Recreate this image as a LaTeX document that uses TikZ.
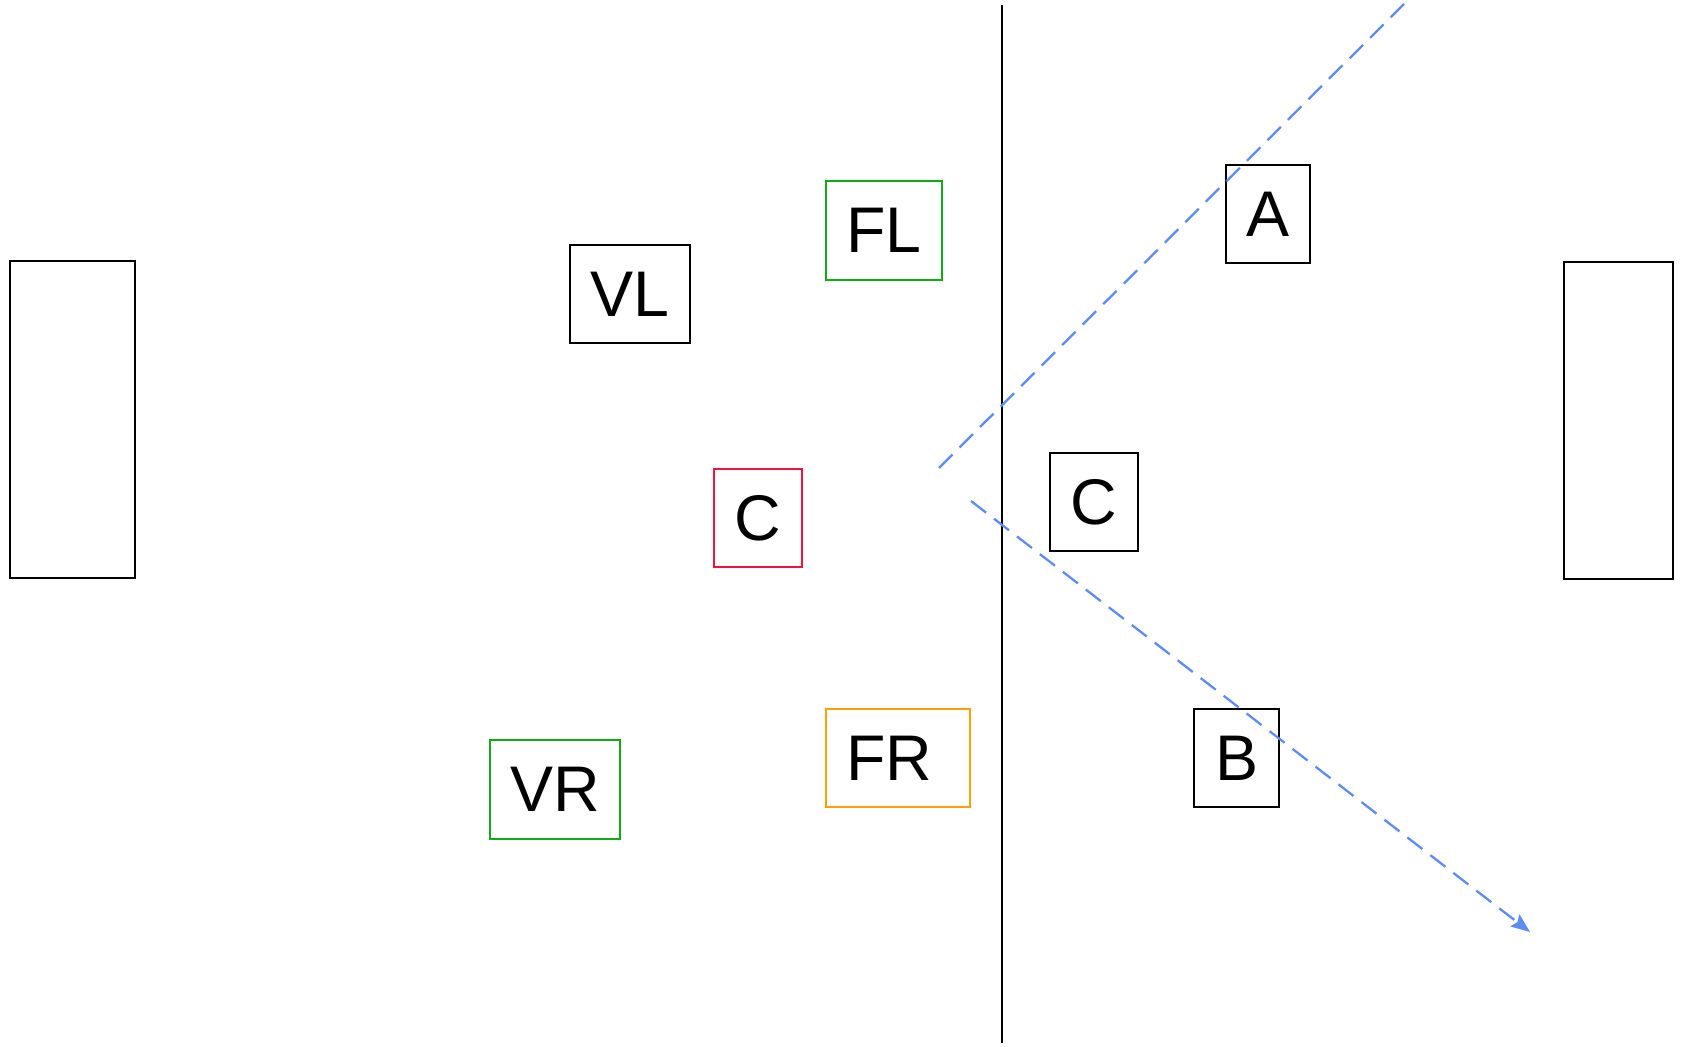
\documentclass[tikz,border=0pt]{standalone}
\usepackage{fontspec}
\setmainfont{Liberation Sans}
\usetikzlibrary{arrows.meta}
\definecolor{boxgreen}{RGB}{20,170,20}
\definecolor{boxred}{RGB}{240,20,60}
\definecolor{boxorange}{RGB}{255,160,0}
\definecolor{runblue}{RGB}{94,140,245}

\begin{document}
\begin{tikzpicture}[x=1pt, y=-1pt,
    player/.style={draw=#1, line width=2.5pt, inner sep=0pt, font=\fontsize{64.5}{76}\selectfont},
    player/.default=black,
    goal/.style={draw, line width=2.5pt, inner sep=0pt},
    run/.style={draw=runblue, line width=2.3pt, dash pattern=on 19pt off 10pt}
]
    \useasboundingbox (0,0) rectangle (1682,1047);

    % goals
    \node[goal, minimum width=125pt, minimum height=317pt] (goalL) at (72.5,419.5) {};
    \node[goal, minimum width=109pt, minimum height=317pt] (goalR) at (1618.5,420.5) {};

    % half-way line
    \coordinate (midtop) at (1002,5);
    \coordinate (midbot) at (1002,1043);
    \draw[line width=2.5pt] (midtop) -- (midbot);

    % left side
    \node[player=boxgreen, minimum width=116pt, minimum height=99pt] (FL) at (884,230.5) {FL};
    \node[player, minimum width=120pt, minimum height=98pt] (VL) at (630,294) {VL};
    \node[player=boxred, minimum width=88pt, minimum height=98pt] (Cl) at (758,518) {C};
    \node[player=boxgreen, minimum width=130pt, minimum height=99pt] (VR) at (555,789.5) {VR};
    \node[player=boxorange, minimum width=144pt, minimum height=98pt] (FR) at (898,758) {FR\rule{17pt}{0pt}};

    % right side
    \node[player, minimum width=84pt, minimum height=98pt] (A) at (1268,214) {A};
    \node[player, minimum width=88pt, minimum height=98pt] (Cr) at (1094,502) {C};
    \node[player, minimum width=85pt, minimum height=98pt] (B) at (1236.5,758) {B};

    % runs
    \coordinate (runAstart) at (939,468);
    \coordinate (runAend) at (1409,-1);
    \coordinate (runBstart) at (971,501);
    \coordinate (runBend) at (1530,932);
    \draw[run] (runAstart) -- (runAend);
    \draw[run, -{Stealth[length=19pt, width=15pt, inset=3pt, fill=runblue]}] (runBstart) -- (runBend);
\end{tikzpicture}
\end{document}
